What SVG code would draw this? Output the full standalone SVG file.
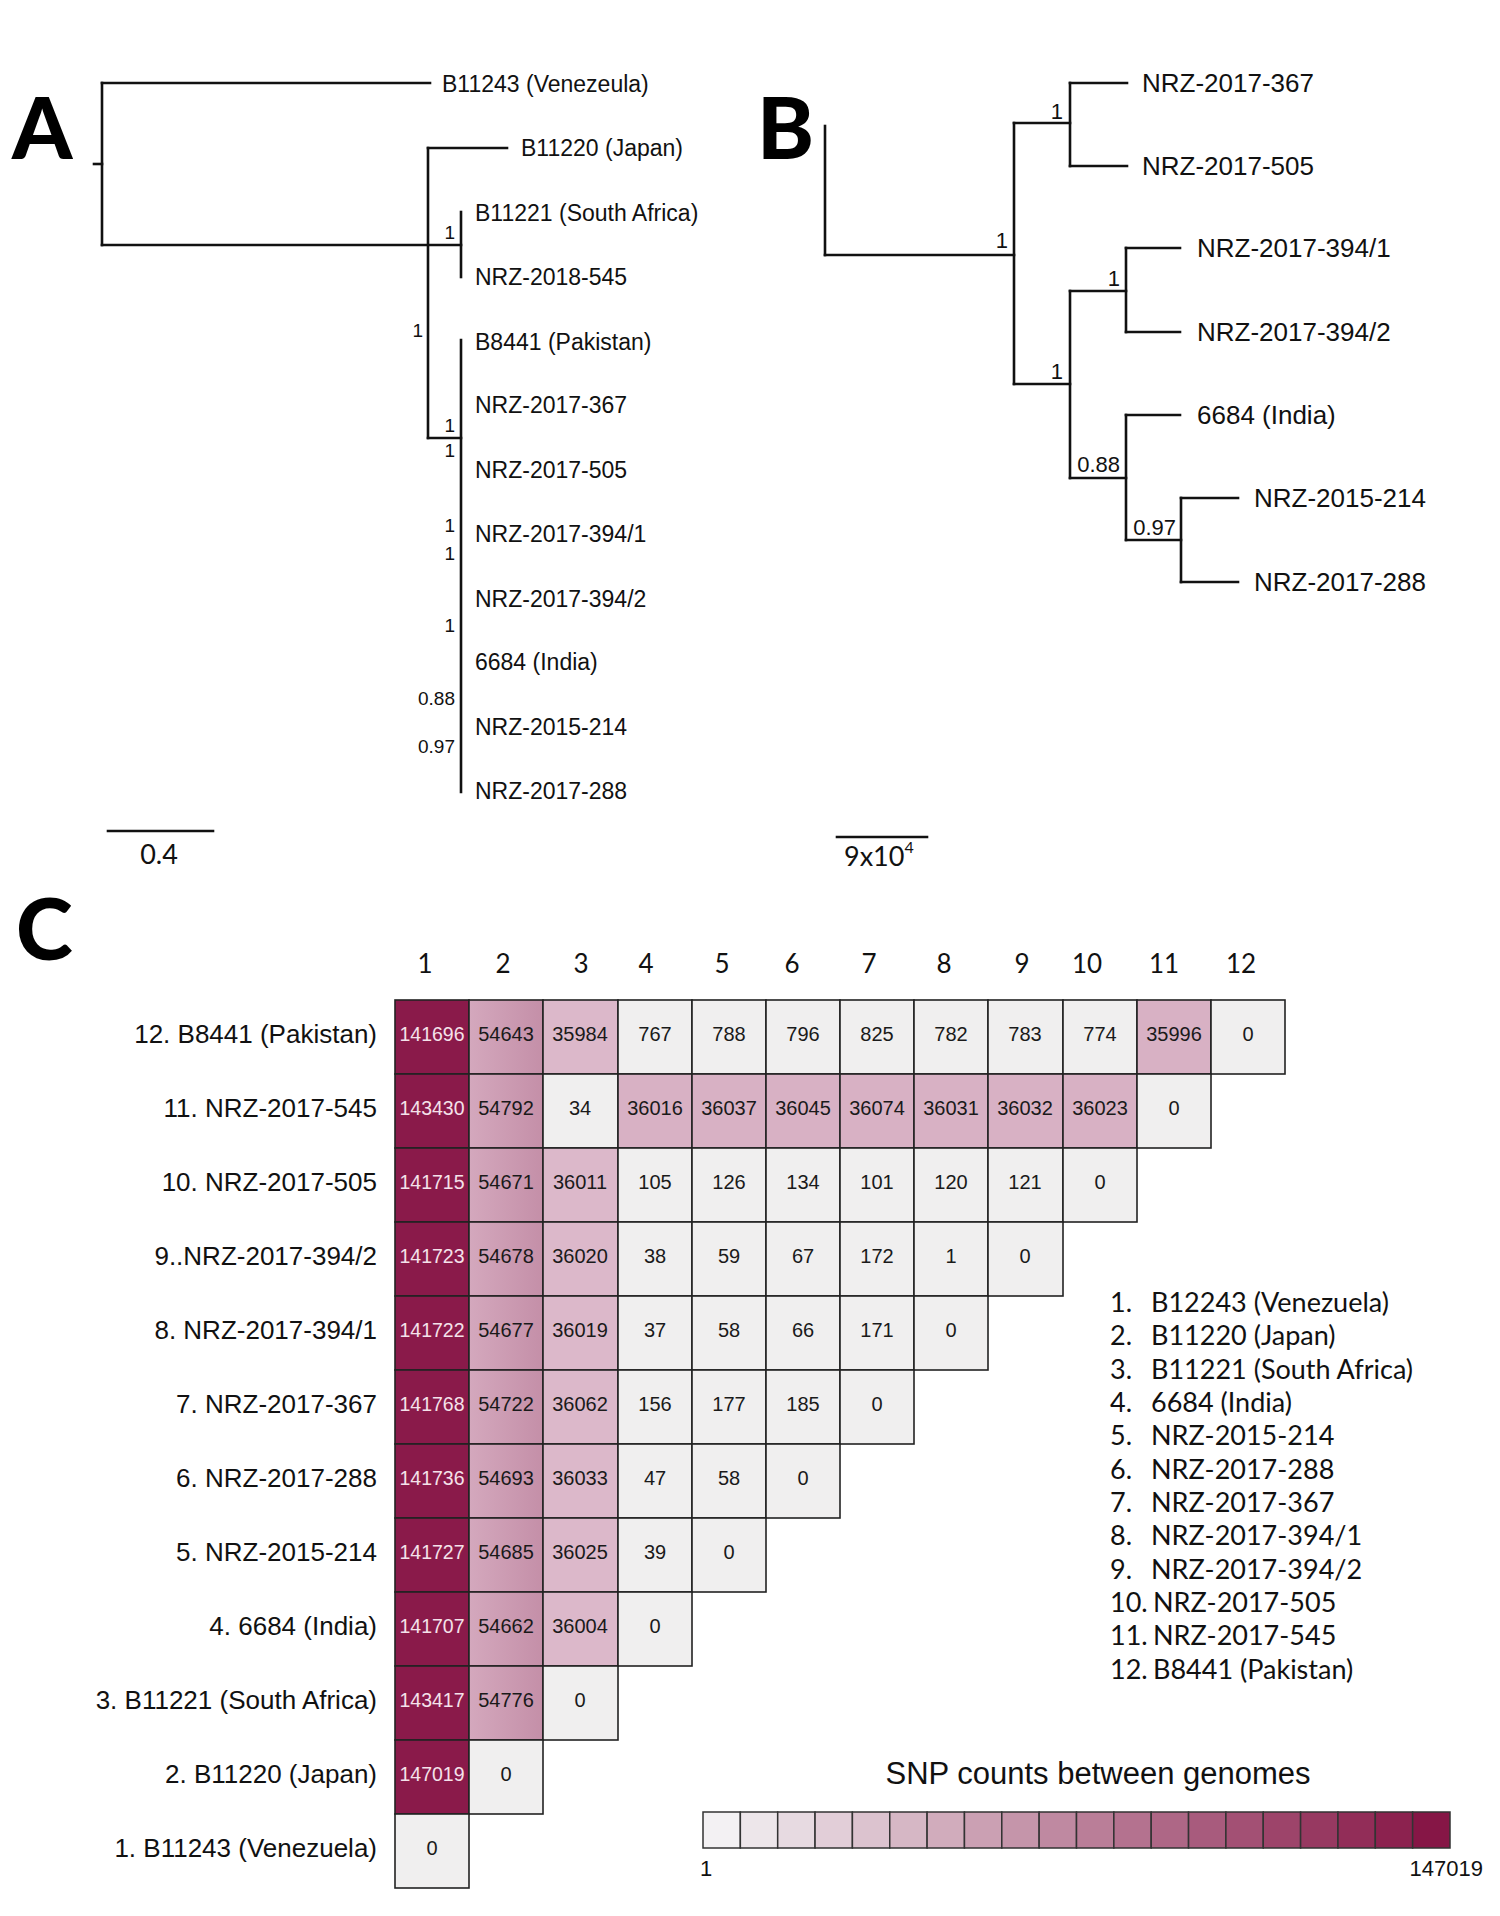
<svg xmlns="http://www.w3.org/2000/svg" width="1500" height="1916" viewBox="0 0 1500 1916">
<style>
.br{stroke:#111;stroke-width:2.6;fill:none;stroke-linecap:square}
.la{font-family:"Liberation Sans",Arial,sans-serif;font-size:23px;fill:#111}
.lb{font-family:"Liberation Sans",Arial,sans-serif;font-size:26px;fill:#111}
.ba{font-family:"Liberation Sans",Arial,sans-serif;font-size:19px;fill:#111;text-anchor:end}
.bb{font-family:"Liberation Sans",Arial,sans-serif;font-size:22px;fill:#111;text-anchor:end}
.pan{font-family:Lato,"Liberation Sans",sans-serif;font-size:86px;font-weight:900;fill:#000}
.sc{font-family:Lato,"Liberation Sans",sans-serif;font-size:27px;fill:#111}
.hd{font-family:Lato,"Liberation Sans",sans-serif;font-size:26px;fill:#111;text-anchor:middle}
.rl{font-family:"Liberation Sans",Arial,sans-serif;font-size:26px;fill:#111;text-anchor:end}
.cv{font-family:"Liberation Sans",Arial,sans-serif;font-size:20px;fill:#1a1a1a;text-anchor:middle}
.cw{font-family:"Liberation Sans",Arial,sans-serif;font-size:19.5px;fill:#f5e2ea;text-anchor:middle}
.lg{font-family:Lato,"Liberation Sans",sans-serif;font-size:27px;fill:#111}
.tt{font-family:"Liberation Sans",Arial,sans-serif;font-size:31px;fill:#111;text-anchor:middle}
.tk{font-family:"Liberation Sans",Arial,sans-serif;font-size:22px;fill:#111}
.c rect{stroke:#222;stroke-width:1.6}
.d{fill:#8a1a4a}
.m{fill:url(#g2)}
.p{fill:#dcb8ca}
.q{fill:#d8b1c4}
.w{fill:#f0efef}
.cb rect{stroke:#333;stroke-width:1.5}
</style>
<defs>
<linearGradient id="g2" x1="0" y1="0" x2="1" y2="0"><stop offset="0" stop-color="#d4a8bd"/><stop offset="1" stop-color="#c48fa8"/></linearGradient>
</defs>
<rect width="1500" height="1916" fill="#fff"/>

<!-- Panel letters -->
<text class="pan" x="12" y="159">A</text>
<text class="pan" x="757" y="159">B</text>
<text class="pan" x="16" y="960">C</text>

<!-- Tree A connectors -->
<g id="treeA-connectors">
<line class="br" x1="94" y1="164" x2="102" y2="164"/>
<line class="br" x1="102" y1="83" x2="102" y2="245"/>
<line class="br" x1="102" y1="83" x2="430" y2="83"/>
<line class="br" x1="102" y1="245" x2="461" y2="245"/>
<line class="br" x1="428" y1="148" x2="428" y2="438"/>
<line class="br" x1="428" y1="148" x2="507" y2="148"/>
<line class="br" x1="461" y1="212" x2="461" y2="277"/>
<line class="br" x1="428" y1="438" x2="461" y2="438"/>
<line class="br" x1="461" y1="340" x2="461" y2="792"/>
</g>
<g id="treeA-nodes">
<g id="a-venezeula"><text class="la" x="442" y="92">B11243 (Venezeula)</text></g>
<g id="a-japan"><text class="la" x="521" y="156">B11220 (Japan)</text></g>
<g id="a-southafrica"><text class="la" x="475" y="221">B11221 (South Africa)</text></g>
<g id="a-545"><text class="la" x="475" y="285">NRZ-2018-545</text></g>
<g id="a-pakistan"><text class="la" x="475" y="350">B8441 (Pakistan)</text></g>
<g id="a-367"><text class="la" x="475" y="413">NRZ-2017-367</text></g>
<g id="a-505"><text class="la" x="475" y="478">NRZ-2017-505</text></g>
<g id="a-3941"><text class="la" x="475" y="542">NRZ-2017-394/1</text></g>
<g id="a-3942"><text class="la" x="475" y="607">NRZ-2017-394/2</text></g>
<g id="a-india"><text class="la" x="475" y="670">6684 (India)</text></g>
<g id="a-214"><text class="la" x="475" y="735">NRZ-2015-214</text></g>
<g id="a-288"><text class="la" x="475" y="799">NRZ-2017-288</text></g>
</g>
<g id="treeA-support">
<text class="ba" x="455" y="239">1</text>
<text class="ba" x="423" y="337">1</text>
<text class="ba" x="455" y="432">1</text>
<text class="ba" x="455" y="457">1</text>
<text class="ba" x="455" y="532">1</text>
<text class="ba" x="455" y="560">1</text>
<text class="ba" x="455" y="632">1</text>
<text class="ba" x="455" y="705">0.88</text>
<text class="ba" x="455" y="753">0.97</text>
</g>
<g id="scaleA">
<line class="br" x1="108" y1="831" x2="213" y2="831"/>
<text class="sc" x="159" y="864" text-anchor="middle">0.4</text>
</g>

<!-- Tree B -->
<g id="treeB-connectors">
<line class="br" x1="825" y1="126" x2="825" y2="255"/>
<line class="br" x1="825" y1="255" x2="1014" y2="255"/>
<line class="br" x1="1014" y1="123" x2="1014" y2="384"/>
<line class="br" x1="1014" y1="123" x2="1070" y2="123"/>
<line class="br" x1="1070" y1="83" x2="1070" y2="166"/>
<line class="br" x1="1070" y1="83" x2="1127" y2="83"/>
<line class="br" x1="1070" y1="166" x2="1127" y2="166"/>
<line class="br" x1="1014" y1="384" x2="1070" y2="384"/>
<line class="br" x1="1070" y1="291" x2="1070" y2="478"/>
<line class="br" x1="1070" y1="291" x2="1126" y2="291"/>
<line class="br" x1="1126" y1="248" x2="1126" y2="332"/>
<line class="br" x1="1126" y1="248" x2="1180" y2="248"/>
<line class="br" x1="1126" y1="332" x2="1180" y2="332"/>
<line class="br" x1="1070" y1="478" x2="1126" y2="478"/>
<line class="br" x1="1126" y1="415" x2="1126" y2="540"/>
<line class="br" x1="1126" y1="415" x2="1180" y2="415"/>
<line class="br" x1="1126" y1="540" x2="1181" y2="540"/>
<line class="br" x1="1181" y1="498" x2="1181" y2="582"/>
<line class="br" x1="1181" y1="498" x2="1238" y2="498"/>
<line class="br" x1="1181" y1="582" x2="1238" y2="582"/>
</g>
<g id="treeB-nodes">
<g id="b-367"><text class="lb" x="1142" y="92">NRZ-2017-367</text></g>
<g id="b-505"><text class="lb" x="1142" y="175">NRZ-2017-505</text></g>
<g id="b-3941"><text class="lb" x="1197" y="257">NRZ-2017-394/1</text></g>
<g id="b-3942"><text class="lb" x="1197" y="341">NRZ-2017-394/2</text></g>
<g id="b-india"><text class="lb" x="1197" y="424">6684 (India)</text></g>
<g id="b-214"><text class="lb" x="1254" y="507">NRZ-2015-214</text></g>
<g id="b-288"><text class="lb" x="1254" y="591">NRZ-2017-288</text></g>
</g>
<g id="treeB-support">
<text class="bb" x="1008" y="248">1</text>
<text class="bb" x="1063" y="119">1</text>
<text class="bb" x="1120" y="286">1</text>
<text class="bb" x="1063" y="379">1</text>
<text class="bb" x="1120" y="472">0.88</text>
<text class="bb" x="1176" y="535">0.97</text>
</g>
<g id="scaleB">
<line class="br" x1="837" y1="837" x2="927" y2="837"/>
<text class="sc" x="844" y="866">9x10<tspan font-size="16" dy="-13">4</tspan></text>
</g>

<!-- Panel C headers -->
<g id="col-headers">
<text class="hd" x="425" y="973">1</text>
<text class="hd" x="503" y="973">2</text>
<text class="hd" x="581" y="973">3</text>
<text class="hd" x="646" y="973">4</text>
<text class="hd" x="722" y="973">5</text>
<text class="hd" x="792" y="973">6</text>
<text class="hd" x="869" y="973">7</text>
<text class="hd" x="944" y="973">8</text>
<text class="hd" x="1022" y="973">9</text>
<text class="hd" x="1087" y="973">10</text>
<text class="hd" x="1164" y="973">11</text>
<text class="hd" x="1241" y="973">12</text>
</g>

<g id="row-labels">
<text class="rl" x="377" y="1043">12. B8441 (Pakistan)</text>
<text class="rl" x="377" y="1117">11. NRZ-2017-545</text>
<text class="rl" x="377" y="1191">10. NRZ-2017-505</text>
<text class="rl" x="377" y="1265">9..NRZ-2017-394/2</text>
<text class="rl" x="377" y="1339">8. NRZ-2017-394/1</text>
<text class="rl" x="377" y="1413">7. NRZ-2017-367</text>
<text class="rl" x="377" y="1487">6. NRZ-2017-288</text>
<text class="rl" x="377" y="1561">5. NRZ-2015-214</text>
<text class="rl" x="377" y="1635">4. 6684 (India)</text>
<text class="rl" x="377" y="1709">3. B11221 (South Africa)</text>
<text class="rl" x="377" y="1783">2. B11220 (Japan)</text>
<text class="rl" x="377" y="1857">1. B11243 (Venezuela)</text>
</g>

<g id="matrix" class="c">
<g id="r12">
<rect class="d" x="395" y="1000" width="74" height="74"/><text class="cw" x="432" y="1041">141696</text>
<rect class="m" x="469" y="1000" width="74" height="74"/><text class="cv" x="506" y="1041">54643</text>
<rect class="p" x="543" y="1000" width="75" height="74"/><text class="cv" x="580" y="1041">35984</text>
<rect class="w" x="618" y="1000" width="74" height="74"/><text class="cv" x="655" y="1041">767</text>
<rect class="w" x="692" y="1000" width="74" height="74"/><text class="cv" x="729" y="1041">788</text>
<rect class="w" x="766" y="1000" width="74" height="74"/><text class="cv" x="803" y="1041">796</text>
<rect class="w" x="840" y="1000" width="74" height="74"/><text class="cv" x="877" y="1041">825</text>
<rect class="w" x="914" y="1000" width="74" height="74"/><text class="cv" x="951" y="1041">782</text>
<rect class="w" x="988" y="1000" width="75" height="74"/><text class="cv" x="1025" y="1041">783</text>
<rect class="w" x="1063" y="1000" width="74" height="74"/><text class="cv" x="1100" y="1041">774</text>
<rect class="q" x="1137" y="1000" width="74" height="74"/><text class="cv" x="1174" y="1041">35996</text>
<rect class="w" x="1211" y="1000" width="74" height="74"/><text class="cv" x="1248" y="1041">0</text>
</g>
<g id="r11">
<rect class="d" x="395" y="1074" width="74" height="74"/><text class="cw" x="432" y="1115">143430</text>
<rect class="m" x="469" y="1074" width="74" height="74"/><text class="cv" x="506" y="1115">54792</text>
<rect class="w" x="543" y="1074" width="75" height="74"/><text class="cv" x="580" y="1115">34</text>
<rect class="q" x="618" y="1074" width="74" height="74"/><text class="cv" x="655" y="1115">36016</text>
<rect class="q" x="692" y="1074" width="74" height="74"/><text class="cv" x="729" y="1115">36037</text>
<rect class="q" x="766" y="1074" width="74" height="74"/><text class="cv" x="803" y="1115">36045</text>
<rect class="q" x="840" y="1074" width="74" height="74"/><text class="cv" x="877" y="1115">36074</text>
<rect class="q" x="914" y="1074" width="74" height="74"/><text class="cv" x="951" y="1115">36031</text>
<rect class="q" x="988" y="1074" width="75" height="74"/><text class="cv" x="1025" y="1115">36032</text>
<rect class="q" x="1063" y="1074" width="74" height="74"/><text class="cv" x="1100" y="1115">36023</text>
<rect class="w" x="1137" y="1074" width="74" height="74"/><text class="cv" x="1174" y="1115">0</text>
</g>
<g id="r10">
<rect class="d" x="395" y="1148" width="74" height="74"/><text class="cw" x="432" y="1189">141715</text>
<rect class="m" x="469" y="1148" width="74" height="74"/><text class="cv" x="506" y="1189">54671</text>
<rect class="p" x="543" y="1148" width="75" height="74"/><text class="cv" x="580" y="1189">36011</text>
<rect class="w" x="618" y="1148" width="74" height="74"/><text class="cv" x="655" y="1189">105</text>
<rect class="w" x="692" y="1148" width="74" height="74"/><text class="cv" x="729" y="1189">126</text>
<rect class="w" x="766" y="1148" width="74" height="74"/><text class="cv" x="803" y="1189">134</text>
<rect class="w" x="840" y="1148" width="74" height="74"/><text class="cv" x="877" y="1189">101</text>
<rect class="w" x="914" y="1148" width="74" height="74"/><text class="cv" x="951" y="1189">120</text>
<rect class="w" x="988" y="1148" width="75" height="74"/><text class="cv" x="1025" y="1189">121</text>
<rect class="w" x="1063" y="1148" width="74" height="74"/><text class="cv" x="1100" y="1189">0</text>
</g>
<g id="r9">
<rect class="d" x="395" y="1222" width="74" height="74"/><text class="cw" x="432" y="1263">141723</text>
<rect class="m" x="469" y="1222" width="74" height="74"/><text class="cv" x="506" y="1263">54678</text>
<rect class="p" x="543" y="1222" width="75" height="74"/><text class="cv" x="580" y="1263">36020</text>
<rect class="w" x="618" y="1222" width="74" height="74"/><text class="cv" x="655" y="1263">38</text>
<rect class="w" x="692" y="1222" width="74" height="74"/><text class="cv" x="729" y="1263">59</text>
<rect class="w" x="766" y="1222" width="74" height="74"/><text class="cv" x="803" y="1263">67</text>
<rect class="w" x="840" y="1222" width="74" height="74"/><text class="cv" x="877" y="1263">172</text>
<rect class="w" x="914" y="1222" width="74" height="74"/><text class="cv" x="951" y="1263">1</text>
<rect class="w" x="988" y="1222" width="75" height="74"/><text class="cv" x="1025" y="1263">0</text>
</g>
<g id="r8">
<rect class="d" x="395" y="1296" width="74" height="74"/><text class="cw" x="432" y="1337">141722</text>
<rect class="m" x="469" y="1296" width="74" height="74"/><text class="cv" x="506" y="1337">54677</text>
<rect class="p" x="543" y="1296" width="75" height="74"/><text class="cv" x="580" y="1337">36019</text>
<rect class="w" x="618" y="1296" width="74" height="74"/><text class="cv" x="655" y="1337">37</text>
<rect class="w" x="692" y="1296" width="74" height="74"/><text class="cv" x="729" y="1337">58</text>
<rect class="w" x="766" y="1296" width="74" height="74"/><text class="cv" x="803" y="1337">66</text>
<rect class="w" x="840" y="1296" width="74" height="74"/><text class="cv" x="877" y="1337">171</text>
<rect class="w" x="914" y="1296" width="74" height="74"/><text class="cv" x="951" y="1337">0</text>
</g>
<g id="r7">
<rect class="d" x="395" y="1370" width="74" height="74"/><text class="cw" x="432" y="1411">141768</text>
<rect class="m" x="469" y="1370" width="74" height="74"/><text class="cv" x="506" y="1411">54722</text>
<rect class="p" x="543" y="1370" width="75" height="74"/><text class="cv" x="580" y="1411">36062</text>
<rect class="w" x="618" y="1370" width="74" height="74"/><text class="cv" x="655" y="1411">156</text>
<rect class="w" x="692" y="1370" width="74" height="74"/><text class="cv" x="729" y="1411">177</text>
<rect class="w" x="766" y="1370" width="74" height="74"/><text class="cv" x="803" y="1411">185</text>
<rect class="w" x="840" y="1370" width="74" height="74"/><text class="cv" x="877" y="1411">0</text>
</g>
<g id="r6">
<rect class="d" x="395" y="1444" width="74" height="74"/><text class="cw" x="432" y="1485">141736</text>
<rect class="m" x="469" y="1444" width="74" height="74"/><text class="cv" x="506" y="1485">54693</text>
<rect class="p" x="543" y="1444" width="75" height="74"/><text class="cv" x="580" y="1485">36033</text>
<rect class="w" x="618" y="1444" width="74" height="74"/><text class="cv" x="655" y="1485">47</text>
<rect class="w" x="692" y="1444" width="74" height="74"/><text class="cv" x="729" y="1485">58</text>
<rect class="w" x="766" y="1444" width="74" height="74"/><text class="cv" x="803" y="1485">0</text>
</g>
<g id="r5">
<rect class="d" x="395" y="1518" width="74" height="74"/><text class="cw" x="432" y="1559">141727</text>
<rect class="m" x="469" y="1518" width="74" height="74"/><text class="cv" x="506" y="1559">54685</text>
<rect class="p" x="543" y="1518" width="75" height="74"/><text class="cv" x="580" y="1559">36025</text>
<rect class="w" x="618" y="1518" width="74" height="74"/><text class="cv" x="655" y="1559">39</text>
<rect class="w" x="692" y="1518" width="74" height="74"/><text class="cv" x="729" y="1559">0</text>
</g>
<g id="r4">
<rect class="d" x="395" y="1592" width="74" height="74"/><text class="cw" x="432" y="1633">141707</text>
<rect class="m" x="469" y="1592" width="74" height="74"/><text class="cv" x="506" y="1633">54662</text>
<rect class="p" x="543" y="1592" width="75" height="74"/><text class="cv" x="580" y="1633">36004</text>
<rect class="w" x="618" y="1592" width="74" height="74"/><text class="cv" x="655" y="1633">0</text>
</g>
<g id="r3">
<rect class="d" x="395" y="1666" width="74" height="74"/><text class="cw" x="432" y="1707">143417</text>
<rect class="m" x="469" y="1666" width="74" height="74"/><text class="cv" x="506" y="1707">54776</text>
<rect class="w" x="543" y="1666" width="75" height="74"/><text class="cv" x="580" y="1707">0</text>
</g>
<g id="r2">
<rect class="d" x="395" y="1740" width="74" height="74"/><text class="cw" x="432" y="1781">147019</text>
<rect class="w" x="469" y="1740" width="74" height="74"/><text class="cv" x="506" y="1781">0</text>
</g>
<g id="r1">
<rect class="w" x="395" y="1814" width="74" height="74"/><text class="cv" x="432" y="1855">0</text>
</g>
</g>

<g id="legend-list">
<text class="lg" x="1110" y="1312">1.</text><text class="lg" x="1151" y="1312">B12243 (Venezuela)</text>
<text class="lg" x="1110" y="1345">2.</text><text class="lg" x="1151" y="1345">B11220 (Japan)</text>
<text class="lg" x="1110" y="1379">3.</text><text class="lg" x="1151" y="1379">B11221 (South Africa)</text>
<text class="lg" x="1110" y="1412">4.</text><text class="lg" x="1151" y="1412">6684 (India)</text>
<text class="lg" x="1110" y="1445">5.</text><text class="lg" x="1151" y="1445">NRZ-2015-214</text>
<text class="lg" x="1110" y="1479">6.</text><text class="lg" x="1151" y="1479">NRZ-2017-288</text>
<text class="lg" x="1110" y="1512">7.</text><text class="lg" x="1151" y="1512">NRZ-2017-367</text>
<text class="lg" x="1110" y="1545">8.</text><text class="lg" x="1151" y="1545">NRZ-2017-394/1</text>
<text class="lg" x="1110" y="1579">9.</text><text class="lg" x="1151" y="1579">NRZ-2017-394/2</text>
<text class="lg" x="1110" y="1612">10.</text><text class="lg" x="1153" y="1612">NRZ-2017-505</text>
<text class="lg" x="1110" y="1645">11.</text><text class="lg" x="1153" y="1645">NRZ-2017-545</text>
<text class="lg" x="1110" y="1679">12.</text><text class="lg" x="1153" y="1679">B8441 (Pakistan)</text>
</g>

<g id="colorbar">
<text class="tt" x="1098" y="1784">SNP counts between genomes</text>
<g class="cb">
<rect x="703.0" y="1812" width="37.35" height="36" fill="#f3f1f3"/>
<rect x="740.35" y="1812" width="37.35" height="36" fill="#ede6ea"/>
<rect x="777.7" y="1812" width="37.35" height="36" fill="#e7dae1"/>
<rect x="815.05" y="1812" width="37.35" height="36" fill="#e2ced8"/>
<rect x="852.4" y="1812" width="37.35" height="36" fill="#dcc3cf"/>
<rect x="889.75" y="1812" width="37.35" height="36" fill="#d6b7c5"/>
<rect x="927.1" y="1812" width="37.35" height="36" fill="#d1acbc"/>
<rect x="964.45" y="1812" width="37.35" height="36" fill="#cba0b3"/>
<rect x="1001.8" y="1812" width="37.35" height="36" fill="#c595aa"/>
<rect x="1039.15" y="1812" width="37.35" height="36" fill="#bf89a1"/>
<rect x="1076.5" y="1812" width="37.35" height="36" fill="#ba7e98"/>
<rect x="1113.85" y="1812" width="37.35" height="36" fill="#b4728f"/>
<rect x="1151.2" y="1812" width="37.35" height="36" fill="#ae6786"/>
<rect x="1188.55" y="1812" width="37.35" height="36" fill="#a85b7d"/>
<rect x="1225.9" y="1812" width="37.35" height="36" fill="#a35074"/>
<rect x="1263.25" y="1812" width="37.35" height="36" fill="#9d446a"/>
<rect x="1300.6" y="1812" width="37.35" height="36" fill="#973961"/>
<rect x="1337.95" y="1812" width="37.35" height="36" fill="#922d58"/>
<rect x="1375.3" y="1812" width="37.35" height="36" fill="#8c224f"/>
<rect x="1412.65" y="1812" width="37.35" height="36" fill="#861646"/>
</g>
<text class="tk" x="700" y="1876">1</text>
<text class="tk" x="1483" y="1876" text-anchor="end">147019</text>
</g>
</svg>
